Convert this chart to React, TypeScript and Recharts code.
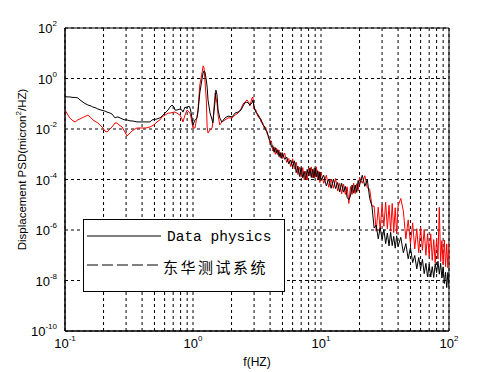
import React from 'react';
import { LineChart, Line, XAxis, YAxis, CartesianGrid, ReferenceArea, Legend, Label } from 'recharts';

// Frequencies (Hz) of the sampled points, low band
const lowFreq = [
  0.100, 0.1055, 0.109, 0.1155, 0.120, 0.126, 0.131, 0.141, 0.151, 0.160,
  0.165, 0.175, 0.181, 0.191, 0.198, 0.205, 0.213, 0.225, 0.233, 0.246,
  0.255, 0.264, 0.279, 0.294, 0.305, 0.322, 0.334, 0.352, 0.365, 0.385,
  0.407, 0.429, 0.445, 0.461, 0.478, 0.505, 0.523, 0.552, 0.573, 0.604,
  0.638, 0.661, 0.686, 0.711, 0.723, 0.750, 0.791, 0.820, 0.835, 0.866,
  0.898, 0.931, 0.948, 0.965, 1.000, 1.036, 1.074, 1.094, 1.13, 1.18,
  1.20, 1.22, 1.24, 1.27, 1.29, 1.31, 1.36, 1.41, 1.43, 1.49,
  1.51, 1.54, 1.57, 1.62, 1.68, 1.78, 1.88, 2.02, 2.13, 2.25,
  2.37, 2.46, 2.54, 2.64, 2.74, 2.78, 2.89, 2.94,
];
// log10 of PSD (micron^2/Hz), Data physics, low band
const lowDataPhysics = [
  -0.72, -0.73, -0.73, -0.75, -0.75, -0.77, -0.85, -0.97, -1.05, -1.09,
  -1.13, -1.17, -1.21, -1.25, -1.27, -1.29, -1.33, -1.37, -1.41, -1.56,
  -1.52, -1.54, -1.60, -1.64, -1.64, -1.68, -1.68, -1.70, -1.72, -1.72,
  -1.72, -1.72, -1.72, -1.72, -1.64, -1.62, -1.60, -1.56, -1.49, -1.37,
  -1.25, -1.13, -1.05, -1.13, -1.25, -1.25, -1.21, -1.25, -1.33, -1.13,
  -1.17, -1.09, -1.17, -1.33, -1.84, -1.64, -1.56, -1.33, -0.57, 0.02,
  0.22, 0.30, 0.26, -0.06, -0.34, -0.85, -1.37, -1.64, -1.76, -0.85,
  -0.46, -0.65, -1.25, -1.56, -1.72, -1.56, -1.49, -1.52, -1.37, -1.33,
  -1.25, -1.09, -0.97, -0.93, -1.01, -1.05, -0.97, -0.85,
];
// log10 of PSD (micron^2/Hz), 东华测试系统, low band
const lowDonghua = [
  -1.25, -1.45, -1.56, -1.68, -1.72, -1.64, -1.60, -1.52, -1.45, -1.56,
  -1.64, -1.72, -1.76, -1.88, -1.96, -2.08, -2.12, -2.00, -1.92, -1.76,
  -1.76, -1.84, -1.92, -2.12, -2.28, -2.16, -2.08, -2.00, -1.96, -1.96,
  -1.96, -1.96, -1.94, -1.92, -1.88, -1.80, -1.72, -1.64, -1.52, -1.45,
  -1.37, -1.37, -1.35, -1.33, -1.33, -1.37, -1.45, -1.60, -1.72, -1.45,
  -1.25, -1.33, -1.37, -1.56, -1.96, -1.96, -1.52, -1.25, -0.26, 0.26,
  0.50, 0.42, -0.06, -0.85, -1.92, -2.16, -2.04, -1.96, -1.72, -0.57,
  -0.77, -0.97, -1.45, -1.84, -1.72, -1.64, -1.56, -1.56, -1.45, -1.37,
  -1.21, -1.01, -0.93, -0.85, -0.97, -1.09, -0.77, -0.73,
];

// Frequencies (Hz), high band
const highFreq = [
  3.0, 3.1, 3.2, 3.3, 3.4, 3.5, 3.6, 3.7, 3.8, 3.9,
  4.0, 4.1, 4.2, 4.3, 4.4, 4.5, 4.6, 4.7, 4.8, 4.9,
  5.0, 5.2, 5.4, 5.6, 5.8, 6.0, 6.2, 6.4, 6.6, 6.8,
  7.0, 7.2, 7.4, 7.6, 7.8, 8.0, 8.2, 8.4, 8.6, 8.8,
  9.0, 9.2, 9.4, 9.6, 9.8, 10, 10.5, 11, 11.5, 12,
  12.5, 13, 13.5, 14, 14.5, 15, 15.5, 16, 16.5, 17,
  17.5, 18, 18.5, 19, 19.5, 20, 21, 22, 23, 24,
  25, 26, 27, 28, 29, 30, 31, 32, 33, 34,
  35, 36, 37, 38, 39, 40, 42, 44, 46, 48,
  50, 52, 54, 56, 58, 60, 62, 64, 66, 68,
  70, 72, 74, 76, 78, 80, 82, 84, 86, 88,
  90, 92, 94, 96, 98, 100,
];
const highDataPhysics = [
  -1.12, -1.35, -1.40, -1.58, -1.61, -1.83, -1.88, -2.05, -2.11, -2.37,
  -2.46, -2.72, -2.66, -2.92, -2.74, -2.96, -2.82, -3.09, -2.93, -3.16,
  -2.94, -3.20, -3.11, -3.38, -3.23, -3.50, -3.26, -3.73, -3.47, -3.88,
  -3.53, -3.93, -3.68, -4.01, -3.60, -3.86, -3.54, -3.92, -3.60, -3.94,
  -3.54, -3.90, -3.65, -4.02, -3.70, -4.03, -3.83, -4.25, -3.98, -4.35,
  -3.98, -4.36, -4.12, -4.49, -4.15, -4.50, -4.27, -4.71, -4.80, -4.65,
  -4.22, -4.54, -4.22, -4.51, -4.04, -4.23, -3.83, -4.27, -4.00, -4.75,
  -5.05, -5.92, -5.81, -6.35, -5.91, -6.37, -5.98, -6.54, -6.12, -6.63,
  -6.09, -6.62, -6.25, -6.72, -6.23, -6.65, -6.29, -6.90, -6.54, -7.14,
  -6.69, -7.29, -7.01, -7.54, -7.09, -7.54, -7.16, -7.73, -7.32, -7.86,
  -7.36, -7.86, -7.45, -7.88, -7.33, -7.69, -7.24, -7.75, -7.32, -7.90,
  -7.46, -8.12, -7.67, -8.28, -7.68, -8.25,
];
const highDonghua = [
  -1.22, -1.24, -1.49, -1.49, -1.72, -1.74, -1.97, -1.93, -2.20, -2.27,
  -2.56, -2.47, -2.87, -2.71, -3.00, -2.77, -3.02, -2.83, -3.13, -2.94,
  -3.17, -2.95, -3.32, -3.17, -3.49, -3.18, -3.58, -3.31, -3.80, -3.51,
  -3.90, -3.53, -4.02, -3.67, -4.02, -3.54, -3.86, -3.50, -3.93, -3.57,
  -3.91, -3.50, -3.99, -3.68, -4.12, -3.71, -4.15, -3.83, -4.31, -3.98,
  -4.35, -3.96, -4.46, -4.15, -4.57, -4.18, -4.59, -4.29, -4.95, -4.28,
  -4.59, -4.14, -4.56, -4.17, -4.46, -3.91, -4.15, -3.85, -4.33, -4.38,
  -5.05, -5.05, -6.05, -5.10, -6.00, -4.98, -5.85, -4.90, -5.95, -5.02,
  -6.05, -4.95, -6.10, -5.12, -6.15, -5.05, -4.75, -5.25, -6.35, -5.60,
  -6.55, -5.72, -6.75, -5.95, -6.90, -5.90, -6.80, -5.98, -7.00, -6.15,
  -7.05, -6.15, -7.20, -6.38, -7.30, -6.32, -7.15, -5.10, -7.25, -6.42,
  -7.35, -6.40, -7.45, -6.55, -7.50, -6.50,
];

const xTicks = [
  0.1, 0.2, 0.3, 0.4, 0.5, 0.6, 0.7, 0.8, 0.9,
  1, 2, 3, 4, 5, 6, 7, 8, 9,
  10, 20, 30, 40, 50, 60, 70, 80, 90, 100,
];
const yTicks = [1e-10, 1e-8, 1e-6, 1e-4, 1e-2, 1, 1e2];
const legendLabels = ['Data physics', '东华测试系统'];
const xLabel = 'f(HZ)';

const freqs = lowFreq.concat(highFreq);
const dpLog = lowDataPhysics.concat(highDataPhysics);
const dhLog = lowDonghua.concat(highDonghua);
const data = freqs.map((f, i) => ({
  f,
  dp: Math.pow(10, dpLog[i]),
  dh: Math.pow(10, dhLog[i]),
}));

const FONT = "'Liberation Sans', Arial, sans-serif";

const decadeExp = (v: number): number | null => {
  const e = Math.log10(v);
  const r = Math.round(e);
  return Math.abs(e - r) < 1e-6 ? r : null;
};

const XTick = (props: any) => {
  const { x, y, payload } = props;
  const e = decadeExp(payload.value);
  if (e === null) return <g />;
  return (
    <text x={x} y={y} textAnchor="middle" fontFamily={FONT} fontSize={13} fill="#000">
      <tspan dy={9}>10</tspan>
      <tspan fontSize={8} dy={-7}>{String(e)}</tspan>
    </text>
  );
};

const YTick = (props: any) => {
  const { x, y, payload } = props;
  const e = decadeExp(payload.value);
  if (e === null) return <g />;
  return (
    <text x={x} y={y} textAnchor="end" fontFamily={FONT} fontSize={13} fill="#000">
      <tspan dy={5}>10</tspan>
      <tspan fontSize={8} dy={-7}>{String(e)}</tspan>
    </text>
  );
};

const LegendBox = () => (
  <div style={{ width: 202, height: 73, border: '1px solid #000', background: '#fff', boxSizing: 'border-box' }}>
    <svg width={200} height={71} style={{ display: 'block' }}>
      <line x1={3} y1={16} x2={77} y2={16} stroke="#000" strokeWidth={1} />
      <text x={83} y={21} fontFamily="'Liberation Mono', monospace" fontSize={14.5} fill="#000">
        {legendLabels[0]}
      </text>
      <line x1={3} y1={45} x2={77} y2={45} stroke="#000" strokeWidth={1} strokeDasharray="11 4" />
      <text x={79} y={53} fontFamily="'Noto Sans CJK SC', sans-serif" fontSize={15} letterSpacing={2.5} fill="#000">
        {legendLabels[1]}
      </text>
    </svg>
  </div>
);

const YLabelContent = (props: any) => {
  const vb = props.viewBox || { x: 5, y: 28, width: 60, height: 303 };
  const cx = vb.x + 17;
  const cy = vb.y + vb.height / 2 - 10;
  return (
    <text
      x={cx}
      y={cy}
      transform={`rotate(-90, ${cx}, ${cy})`}
      textAnchor="middle"
      fontFamily={FONT}
      fontSize={11.5}
      fill="#000"
    >
      <tspan dy={4}>Displacement PSD(micron</tspan>
      <tspan fontSize={8} dy={-5}>2</tspan>
      <tspan dy={5}>/HZ)</tspan>
    </text>
  );
};

const XLabelContent = (props: any) => {
  const vb = props.viewBox || { x: 65, y: 331, width: 384, height: 41 };
  return (
    <text x={vb.x + vb.width / 2} y={vb.y + 35} textAnchor="middle" fontFamily={FONT} fontSize={12} fill="#000">
      {xLabel}
    </text>
  );
};

export default function App() {
  return (
    <div style={{ position: 'absolute', left: 0, top: 0, width: 496, height: 372, background: '#fff' }}>
      <LineChart width={496} height={372} data={data} margin={{ top: 28, right: 47, bottom: 0, left: 5 }}>
        <CartesianGrid stroke="#000" strokeDasharray="3 3" strokeWidth={1} />
        <XAxis
          dataKey="f"
          type="number"
          scale="log"
          domain={[0.1, 100]}
          ticks={xTicks}
          interval={0}
          allowDataOverflow
          height={41}
          tickLine={false}
          axisLine={{ stroke: '#000' }}
          tick={(p: any) => <XTick {...p} />}
        >
          <Label content={(p: any) => <XLabelContent {...p} />} />
        </XAxis>
        <YAxis
          type="number"
          scale="log"
          domain={[1e-10, 1e2]}
          ticks={yTicks}
          interval={0}
          allowDataOverflow
          width={60}
          tickLine={false}
          axisLine={{ stroke: '#000' }}
          tick={(p: any) => <YTick {...p} />}
        >
          <Label content={(p: any) => <YLabelContent {...p} />} />
        </YAxis>
        <ReferenceArea x1={0.1} x2={100} y1={1e-10} y2={1e2} fill="none" stroke="#000" strokeWidth={1} ifOverflow="visible" />
        <Line type="linear" dataKey="dh" stroke="#ff0000" strokeWidth={1} dot={false} isAnimationActive={false} />
        <Line type="linear" dataKey="dp" stroke="#000000" strokeWidth={1} dot={false} isAnimationActive={false} />
        <Legend
          layout="vertical"
          align="center"
          verticalAlign="middle"
          content={() => <LegendBox />}
          wrapperStyle={{ left: 83, top: 219, width: 202, height: 73, margin: 0, padding: 0 }}
        />
      </LineChart>
    </div>
  );
}
